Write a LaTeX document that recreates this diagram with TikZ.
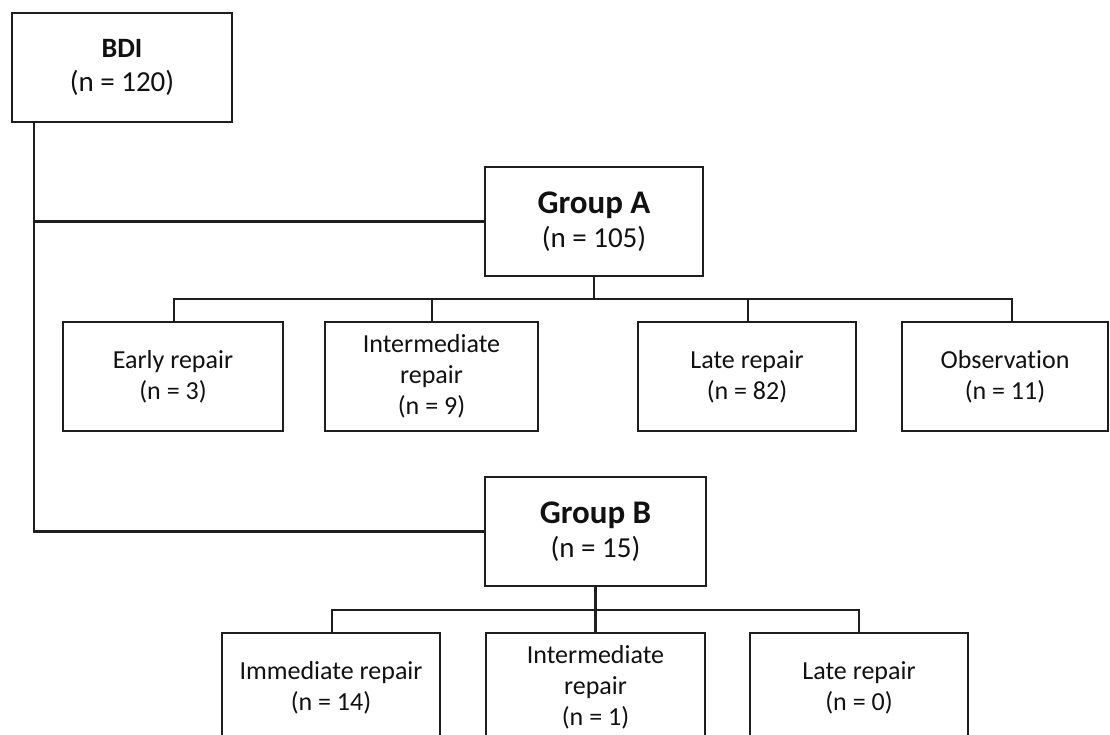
\documentclass[tikz,border=0pt]{standalone}
\usepackage{fontspec}
\setmainfont{Carlito}[Ligatures=NoCommon]
\usetikzlibrary{calc}
\definecolor{linec}{HTML}{1E1E1E}
\definecolor{textc}{HTML}{111111}
\begin{document}
\begin{tikzpicture}[x=1pt,y=-1pt,
  box/.style={draw=linec, line width=2.2pt, inner sep=0pt, align=center,
    minimum height=109pt, text=textc},
  headfont/.style={font=\fontsize{29}{34}\selectfont},
  leaffont/.style={font=\fontsize{26}{31}\selectfont},
  conn/.style={draw=linec, line width=2.2pt}]
\useasboundingbox (0,0) rectangle (1110,735);
\clip (0,0) rectangle (1110,735);
\fill[white] (0,0) rectangle (1110,735);

% top level
\node[box, headfont, minimum width=220pt] (bdi) at (122,67.5)
  {{\fontsize{28}{33}\selectfont\bfseries BDI}\\(n = 120)};

% groups
\node[box, headfont, minimum width=218pt] (ga) at (594,221.5)
  {{\fontsize{33}{36}\selectfont\bfseries Group A}\\(n = 105)};
\node[box, headfont, minimum width=221pt] (gb) at (595.5,531.5)
  {{\fontsize{33}{36}\selectfont\bfseries Group B}\\(n = 15)};

% group A children
\node[box, leaffont, minimum width=220pt] (earlya) at (173,376.5) {Early repair\\(n = 3)};
\node[box, leaffont, minimum width=213pt] (interma) at (431.5,376.5) {Intermediate\\repair\\(n = 9)};
\node[box, leaffont, minimum width=218pt] (latea) at (747,376.5) {Late repair\\(n = 82)};
\node[box, leaffont, minimum width=206pt] (obsa) at (1005,376.5) {Observation\\(n = 11)};

% group B children
\node[box, leaffont, minimum width=218pt] (immb) at (331,687.5) {Immediate repair\\(n = 14)};
\node[box, leaffont, minimum width=219pt] (intermb) at (595.5,687.5) {Intermediate\\repair\\(n = 1)};
\node[box, leaffont, minimum width=218pt] (lateb) at (859,687.5) {Late repair\\(n = 0)};

% BDI trunk
\coordinate (trunk) at ($(bdi.south west)+(23,0)$);
\draw[conn] (trunk) |- (ga.west);
\draw[conn] (trunk) |- (gb.west);

% Group A branches
\coordinate (ja) at ($(ga.south)+(0,22)$);
\draw[conn] (ga.south) -- (ja);
\draw[conn] (ja) -| ($(earlya.north)+(1,0)$);
\draw[conn] (ja) -| ($(interma.north)+(0.5,0)$);
\draw[conn] (ja) -| ($(latea.north)+(1,0)$);
\draw[conn] (ja) -| ($(obsa.north)+(7,0)$);

% Group B branches
\coordinate (jb) at ($(gb.south)+(0,23)$);
\draw[conn] (gb.south) -- (intermb.north);
\draw[conn] (jb) -| ($(immb.north)+(1,0)$);
\draw[conn] (jb) -| (lateb.north);
\end{tikzpicture}
\end{document}
